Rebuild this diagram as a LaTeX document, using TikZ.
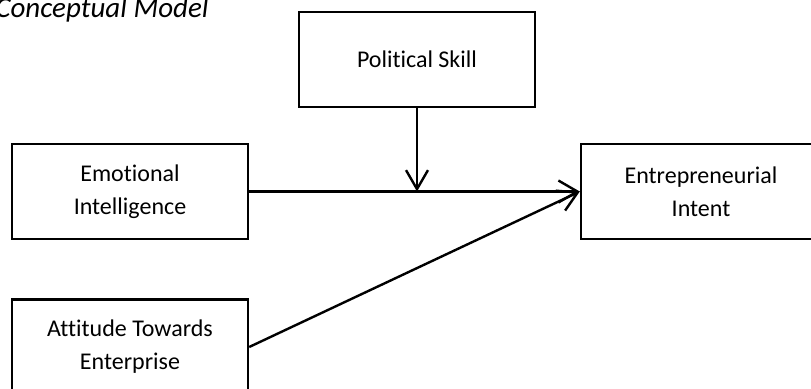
\documentclass[tikz,border=0pt]{standalone}
\usepackage{fontspec}
\setmainfont{Carlito}[Ligatures=NoCommon]
\usepackage{tikz}
\usetikzlibrary{arrows.meta}

\begin{document}
\begin{tikzpicture}[x=0.5pt, y=-0.5pt,
        varbox/.style={draw, line width=1.2pt, minimum width=118pt, minimum height=47.5pt,
            align=center, font=\fontsize{12}{16.5}\selectfont, inner sep=0pt},
        path/.style={line width=1.2pt, -{Straight Barb[length=9.5pt, width=11pt, line width=1.2pt]}}]
        % Fix the page size
        \useasboundingbox (0,0) rectangle (811,388);

        % Draw the title
        \node[anchor=base west, inner sep=0pt, font=\fontsize{14.5}{17}\itshape] (title) at (-5,17) {Conceptual Model};

        % Draw the variable boxes
        \node[varbox] (pol) at (417,59.5) {Political Skill};
        \node[varbox] (emo) at (130,191.5) {Emotional\\Intelligence};
        \node[varbox, minimum width=120pt] (ent) at (701,191.5) {Entrepreneurial\\Intent};
        \node[varbox] (att) at (130,347) {Attitude Towards\\Enterprise};

        % Draw the paths
        \coordinate (mod) at (pol.south |- emo.east);
        \draw[path] (emo.east) -- (ent.west);
        \draw[path] (att.east) -- (ent.west);
        \draw[path] (pol.south) -- (mod);

    \end{tikzpicture}
\end{document}
